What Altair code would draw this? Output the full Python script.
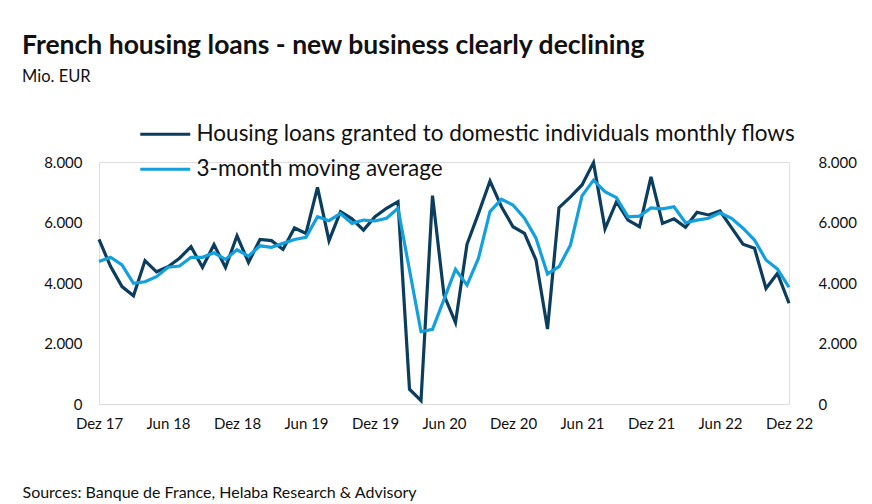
import altair as alt
import pandas as pd

month_names = ["Jan", "Feb", "Mär", "Apr", "Mai", "Jun", "Jul", "Aug", "Sep", "Okt", "Nov", "Dez"]
months = ["Dez 17"] + [f"{m} {y}" for y in range(18, 23) for m in month_names]
x_labels = ["Dez 17", "Jun 18", "Dez 18", "Jun 19", "Dez 19", "Jun 20",
            "Dez 20", "Jun 21", "Dez 21", "Jun 22", "Dez 22"]

series_names = ["Housing loans granted to domestic individuals monthly flows",
                "3-month moving average"]

monthly_flows = [5440, 4550, 3880, 3580, 4740, 4370, 4540, 4820, 5200, 4520, 5270, 4510,
                 5560, 4680, 5440, 5400, 5110, 5820, 5640, 7160, 5400, 6360, 6120, 5750,
                 6190, 6470, 6690, 490, 110, 6890, 3600, 2690, 5280, 6300, 7370, 6520,
                 5860, 5640, 4760, 2480, 6490, 6850, 7240, 7980, 5790, 6690, 6080, 5860,
                 7510, 5970, 6120, 5840, 6340, 6250, 6380, 5830, 5280, 5150, 3820, 4320,
                 3330]

moving_avg = [4710, 4850, 4600, 3990, 4040, 4210, 4520, 4560, 4850, 4850, 5000, 4780,
              5100, 4890, 5230, 5180, 5310, 5440, 5510, 6190, 6060, 6300, 5970, 6080,
              6050, 6140, 6470, 4430, 2390, 2470, 3460, 4450, 3930, 4820, 6360, 6770,
              6580, 6140, 5480, 4300, 4540, 5260, 6880, 7400, 7020, 6820, 6190, 6210,
              6480, 6450, 6520, 5990, 6080, 6140, 6320, 6140, 5810, 5420, 4760, 4460,
              3860]

colors = ["#0b3d5e", "#12a0df"]
y_ticks = [0, 2000, 4000, 6000, 8000]

FONT = "Lato"

df1 = pd.DataFrame({"month": months, "value": monthly_flows, "series": series_names[0]})
df2 = pd.DataFrame({"month": months, "value": moving_avg, "series": series_names[1]})

color = alt.Color(
    "series:N",
    scale=alt.Scale(domain=series_names, range=colors),
    legend=alt.Legend(
        title=None, orient="none", legendX=55, legendY=-39,
        symbolType="M-5,0H5", symbolSize=100, symbolStrokeWidth=3.2,
        labelFontSize=22.5, labelFont=FONT, labelColor="#111111",
        labelOffset=20, rowPadding=12, labelLimit=800,
    ),
)

x_enc = alt.X(
    "month:O", sort=months,
    scale=alt.Scale(type="point", padding=0),
    axis=alt.Axis(
        values=x_labels, labelAngle=0, ticks=False, domain=False, grid=False,
        labelPadding=12, labelFontSize=15, labelFont=FONT, labelColor="#111111",
        title="Sources: Banque de France, Helaba Research & Advisory",
        titleX=-77, titleY=88, titleAlign="left", titleBaseline="middle",
        titleFontSize=16, titleFont=FONT, titleFontWeight="normal", titleColor="#111111",
    ),
)

label_expr = "replace(format(datum.value, ','), ',', '.')"

y_scale = alt.Scale(domain=[0, 8000], nice=False)

left = alt.Chart(df1).mark_line(strokeWidth=3.2).encode(
    x=x_enc,
    y=alt.Y("value:Q", scale=y_scale,
            axis=alt.Axis(orient="left", values=y_ticks, labelExpr=label_expr, ticks=False,
                          domain=False, grid=False, labelPadding=17, labelFontSize=15,
                          labelFont=FONT, labelColor="#111111", title=None)),
    color=color,
)

right = alt.Chart(df2).mark_line(strokeWidth=3.2).encode(
    x=x_enc,
    y=alt.Y("value:Q", scale=y_scale,
            axis=alt.Axis(orient="right", values=y_ticks, labelExpr=label_expr, ticks=False,
                          domain=False, grid=False, labelPadding=29, labelFontSize=15,
                          labelFont=FONT, labelColor="#111111", labelAlign="left", title=None)),
    color=color,
)

chart = alt.layer(left, right).resolve_axis(y="independent").properties(
    width=690, height=242,
    padding={"left": 91, "top": 154, "right": 75, "bottom": 100},
    autosize=alt.AutoSizeParams(type="none"),
    title=alt.TitleParams(
        text="French housing loans - new business clearly declining",
        subtitle="Mio. EUR",
        anchor="start", frame="group", dx=-77, offset=38,
        font=FONT, fontSize=26.5, fontWeight="bold", color="#111111",
        subtitleFont=FONT, subtitleFontSize=16.5, subtitleColor="#111111",
        subtitlePadding=9,
    ),
).configure_view(stroke=None).configure(background="white")

chart.save("out.html", embed_options={"renderer": "svg", "actions": False})
